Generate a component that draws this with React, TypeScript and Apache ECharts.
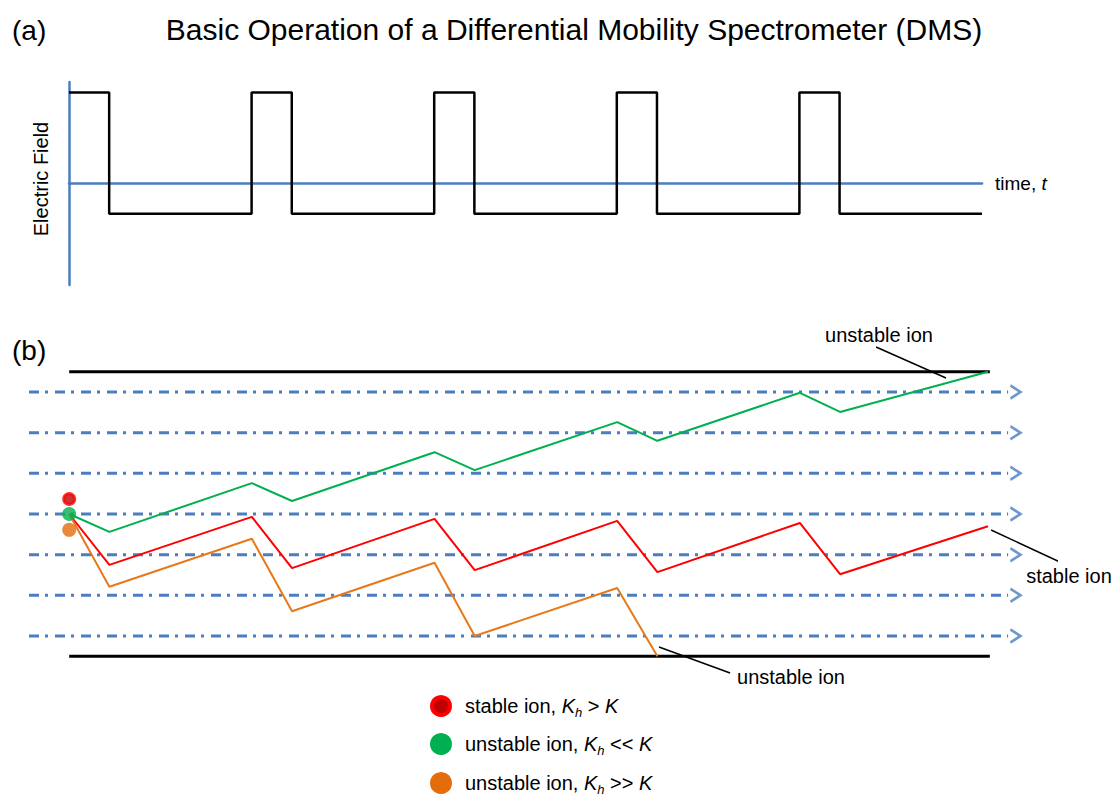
import React, { useEffect, useRef } from 'react';
import * as echarts from 'echarts';

const FONT = '"Liberation Sans", Arial, Helvetica, sans-serif';
const BLUE = '#4a7ebf';

// Panel (a): asymmetric square-wave field, one cycle per time unit
const waveTime = [0, 0.22, 0.22, 1, 1, 1.22, 1.22, 2, 2, 2.22, 2.22, 3, 3, 3.22, 3.22, 4, 4, 4.22, 4.22, 5];
const waveField = [3, 3, -1, -1, 3, 3, -1, -1, 3, 3, -1, -1, 3, 3, -1, -1, 3, 3, -1, -1];

// Panel (b): ion paths (time, transverse position in gap units)
const turnTimes = [0, 0.22, 1, 1.22, 2, 2.22, 3, 3.22, 4, 4.22, 5.03];
const greenPos = [0, -0.44, 0.76, 0.32, 1.52, 1.08, 2.26, 1.8, 2.98, 2.51, 3.5];
const redPos = [0, -1.25, -0.07, -1.33, -0.12, -1.38, -0.17, -1.43, -0.22, -1.48, -0.3];
const orangeTimes = [0, 0.22, 1, 1.22, 2, 2.22, 3, 3.22];
const orangePos = [0, -1.79, -0.61, -2.39, -1.2, -3.0, -1.82, -3.5];

// Carrier-gas flow lines and electrode plates
const flowLevels = [3, 2, 1, 0, -1, -2, -3];
const flowStart = -0.22;
const flowEnd = 5.14;
const arrowX = 5.18;
const plateLevels = [3.5, -3.5];
const plateStart = 0;
const plateEnd = 5.04;

// Starting positions of the three ions
const startRed = 0.37;
const startGreen = 0;
const startOrange = -0.39;

// Leader lines for the annotations: [x0, y0, x1, y1]
const leaderTop = [4.417, 4.106, 4.8, 3.344];
const leaderRight = [5.047, -0.393, 5.435, -1.205];
const leaderBottom = [3.229, -3.27, 3.618, -3.91];

const TITLE = 'Basic Operation of a Differential Mobility Spectrometer (DMS)';
const legendItems = [
  { text: 'stable ion, {k|K}{h|h} > {k|K}', fill: '#c00000', stroke: '#ff0000' },
  { text: 'unstable ion, {k|K}{h|h} << {k|K}', fill: '#00b050', stroke: '#00b050' },
  { text: 'unstable ion, {k|K}{h|h} >> {k|K}', fill: '#e46c0a', stroke: '#e46c0a' },
];

const zip = (xs: number[], ys: number[]) => xs.map((x, i) => [x, ys[i]]);

function buildOption() {
  const series: any[] = [];

  series.push({
    name: 'Electric Field',
    type: 'line',
    xAxisIndex: 0,
    yAxisIndex: 0,
    data: zip(waveTime, waveField),
    symbol: 'none',
    lineStyle: { color: '#000', width: 2.5 },
    z: 3,
  });

  flowLevels.forEach((lv, i) => {
    series.push({
      name: 'flow' + i,
      type: 'line',
      xAxisIndex: 1,
      yAxisIndex: 1,
      data: [[flowStart, lv], [flowEnd, lv]],
      symbol: 'none',
      lineStyle: { color: BLUE, width: 3, type: [10, 6, 3, 7], cap: 'butt' },
      z: 1,
    });
  });

  series.push({
    name: 'flow arrows',
    type: 'scatter',
    xAxisIndex: 1,
    yAxisIndex: 1,
    data: flowLevels.map((lv) => [arrowX, lv]),
    symbol: 'path://M0,0 L10,6 L0,12',
    symbolSize: [10, 13],
    symbolKeepAspect: false,
    itemStyle: { color: 'rgba(0,0,0,0)', borderColor: BLUE, borderWidth: 2.5 },
    z: 1,
  });

  plateLevels.forEach((lv, i) => {
    series.push({
      name: 'plate' + i,
      type: 'line',
      xAxisIndex: 1,
      yAxisIndex: 1,
      data: [[plateStart, lv], [plateEnd, lv]],
      symbol: 'none',
      lineStyle: { color: '#000', width: 3 },
      z: 2,
    });
  });

  series.push({
    name: 'unstable ion, Kh << K',
    type: 'line',
    xAxisIndex: 1,
    yAxisIndex: 1,
    data: zip(turnTimes, greenPos),
    symbol: 'none',
    lineStyle: { color: '#00b050', width: 2 },
    z: 3,
  });
  series.push({
    name: 'stable ion, Kh > K',
    type: 'line',
    xAxisIndex: 1,
    yAxisIndex: 1,
    data: zip(turnTimes, redPos),
    symbol: 'none',
    lineStyle: { color: '#ff0000', width: 2 },
    z: 3,
  });
  series.push({
    name: 'unstable ion, Kh >> K',
    type: 'line',
    xAxisIndex: 1,
    yAxisIndex: 1,
    data: zip(orangeTimes, orangePos),
    symbol: 'none',
    lineStyle: { color: '#e8791a', width: 2 },
    z: 3,
  });

  [leaderTop, leaderRight, leaderBottom].forEach((l, i) => {
    series.push({
      name: 'leader' + i,
      type: 'line',
      xAxisIndex: 1,
      yAxisIndex: 1,
      data: [[l[0], l[1]], [l[2], l[3]]],
      symbol: 'none',
      clip: false,
      lineStyle: { color: '#000', width: 1.5 },
      z: 4,
    });
  });

  series.push({
    name: 'start red',
    type: 'scatter',
    xAxisIndex: 1,
    yAxisIndex: 1,
    data: [[0, startRed]],
    symbolSize: 11,
    itemStyle: { color: '#c00000', borderColor: '#ff0000', borderWidth: 3 },
    z: 5,
  });
  series.push({
    name: 'start orange',
    type: 'scatter',
    xAxisIndex: 1,
    yAxisIndex: 1,
    data: [[0, startOrange]],
    symbolSize: 14,
    itemStyle: { color: '#e46c0a' },
    z: 5,
  });
  series.push({
    name: 'start green',
    type: 'scatter',
    xAxisIndex: 1,
    yAxisIndex: 1,
    data: [[0, startGreen]],
    symbolSize: 14,
    itemStyle: { color: '#00b050' },
    z: 6,
  });

  const text = (x: number, y: number, t: string, fontSize: number, extra: any = {}, el: any = {}) => ({
    type: 'text',
    x,
    y,
    ...el,
    style: {
      text: t,
      fontSize,
      fontFamily: FONT,
      fill: '#000',
      textAlign: 'left',
      verticalAlign: 'middle',
      ...extra,
    },
  });

  // italic K with a smaller italic h, pushed down by top padding
  const richStyle = {
    k: { fontStyle: 'italic', fontSize: 20, fontFamily: FONT, fill: '#000' },
    h: { fontStyle: 'italic', fontSize: 13, padding: [12, 0, 0, 0], fontFamily: FONT, fill: '#000' },
  };

  const legendY = [706, 744, 783];
  const graphic: any[] = [
    text(12, 30, '(a)', 28),
    text(574, 29, TITLE, 30, { textAlign: 'center' }),
    text(12, 350, '(b)', 28),
    text(41, 179, 'Electric Field', 20, { textAlign: 'center' }, { rotation: Math.PI / 2 }),
    text(995, 183, 'time, {t|t}', 19, {
      lineHeight: 24,
      rich: { t: { fontStyle: 'italic', fontSize: 19, lineHeight: 24, fontFamily: FONT, fill: '#000' } },
    }),
    text(879, 335, 'unstable ion', 20, { textAlign: 'center' }),
    text(1069, 576, 'stable ion', 20, { textAlign: 'center' }),
    text(791, 677, 'unstable ion', 20, { textAlign: 'center' }),
  ];
  legendItems.forEach((item, i) => {
    graphic.push({
      type: 'circle',
      shape: { cx: 441, cy: legendY[i], r: 9 },
      style: { fill: item.fill, stroke: item.stroke, lineWidth: 4 },
    });
    graphic.push(text(465, legendY[i], item.text, 20, { lineHeight: 22, rich: richStyle }));
  });

  return {
    animation: false,
    backgroundColor: '#fff',
    grid: [
      { left: 69, top: 82, width: 913, height: 203 },
      { left: 29, top: 331, width: 1026.6, height: 366 },
    ],
    xAxis: [
      {
        type: 'value',
        gridIndex: 0,
        min: 0,
        max: 5,
        axisLine: { show: true, onZero: true, lineStyle: { color: BLUE, width: 2.5 } },
        axisTick: { show: false },
        axisLabel: { show: false },
        splitLine: { show: false },
      },
      {
        type: 'value',
        gridIndex: 1,
        min: -0.22,
        max: 5.4,
        show: false,
        splitLine: { show: false },
      },
    ],
    yAxis: [
      {
        type: 'value',
        gridIndex: 0,
        min: -3.35,
        max: 3.35,
        axisLine: { show: true, onZero: true, lineStyle: { color: BLUE, width: 2.5 } },
        axisTick: { show: false },
        axisLabel: { show: false },
        splitLine: { show: false },
      },
      {
        type: 'value',
        gridIndex: 1,
        min: -4.5,
        max: 4.5,
        show: false,
        splitLine: { show: false },
      },
    ],
    series,
    graphic,
  };
}

export default function App() {
  const ref = useRef<HTMLDivElement>(null);
  useEffect(() => {
    if (!ref.current) return;
    const chart = echarts.init(ref.current, undefined, { renderer: 'svg' });
    chart.setOption(buildOption() as any);
    return () => chart.dispose();
  }, []);
  return (
    <div
      ref={ref}
      style={{ position: 'fixed', left: 0, top: 0, width: 1114, height: 797, background: '#fff' }}
    />
  );
}
